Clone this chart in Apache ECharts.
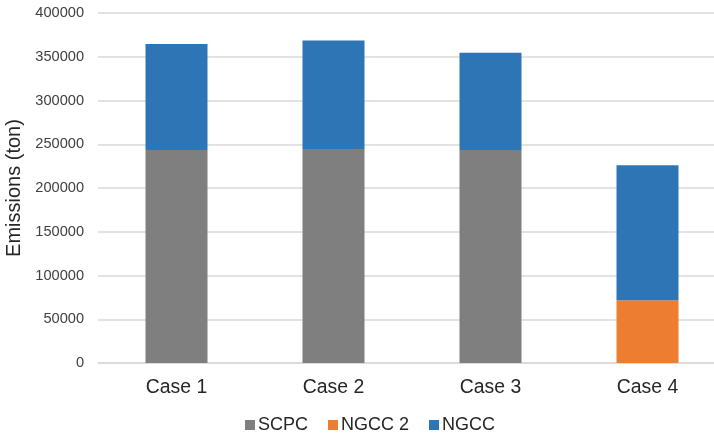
<!DOCTYPE html>
<html>
<head>
<meta charset="utf-8">
<script src="https://cdn.jsdelivr.net/npm/echarts@6/dist/echarts.min.js"></script>
<style>
  html, body { margin: 0; padding: 0; background: #fff; }
  #chart { width: 714px; height: 435px; }
</style>
</head>
<body>
<div id="chart"></div>
<script>
// Emissions per case, stacked by plant type (tons)
const categories = ['Case 1', 'Case 2', 'Case 3', 'Case 4'];
const scpc = [243300, 244500, 243300, 0];
const ngcc2 = [0, 0, 0, 71800];
const ngccTotal = [364500, 368600, 354500, 226100];
const ngcc = ngccTotal.map((t, i) => t - scpc[i] - ngcc2[i]);
const yTicks = { min: 0, max: 400000, interval: 50000 };

const font = 'Liberation Sans, Arial, sans-serif';

const chart = echarts.init(document.getElementById('chart'), null, { renderer: 'canvas' });

function barSeries(name, data, color) {
  return {
    name: name,
    type: 'bar',
    stack: 'total',
    data: data,
    barWidth: 62,
    itemStyle: { color: color },
    emphasis: { disabled: true }
  };
}

chart.setOption({
  animation: false,
  textStyle: { fontFamily: font },
  grid: {
    left: 98, top: 13, width: 628, height: 350,
    containLabel: false, outerBoundsMode: 'none'
  },
  legend: {
    left: 240,
    top: 411,
    itemWidth: 10,
    itemHeight: 10,
    itemGap: 20,
    icon: 'rect',
    textStyle: { fontSize: 18, color: '#262626', fontFamily: font, padding: [0, 0, 0, -2] },
    data: ['SCPC', 'NGCC 2', 'NGCC']
  },
  xAxis: {
    type: 'category',
    data: categories,
    axisTick: { show: false },
    axisLine: { lineStyle: { color: '#d9d9d9', width: 1.5 } },
    axisLabel: { fontSize: 19.4, color: '#262626', margin: 15, fontFamily: font }
  },
  yAxis: {
    type: 'value',
    min: yTicks.min,
    max: yTicks.max,
    interval: yTicks.interval,
    name: 'Emissions (ton)',
    nameLocation: 'middle',
    nameGap: 62,
    nameTextStyle: { fontSize: 20, color: '#262626', fontFamily: font },
    axisLine: { show: false },
    axisTick: { show: false },
    splitLine: { lineStyle: { color: '#d9d9d9', width: 1.5 } },
    axisLabel: {
      fontSize: 14.6, color: '#404040', margin: 14, fontFamily: font,
      formatter: v => String(v)
    }
  },
  series: [
    barSeries('SCPC', scpc, '#7f7f7f'),
    barSeries('NGCC 2', ngcc2, '#ed7d31'),
    barSeries('NGCC', ngcc, '#2e75b6')
  ]
});
</script>
</body>
</html>
